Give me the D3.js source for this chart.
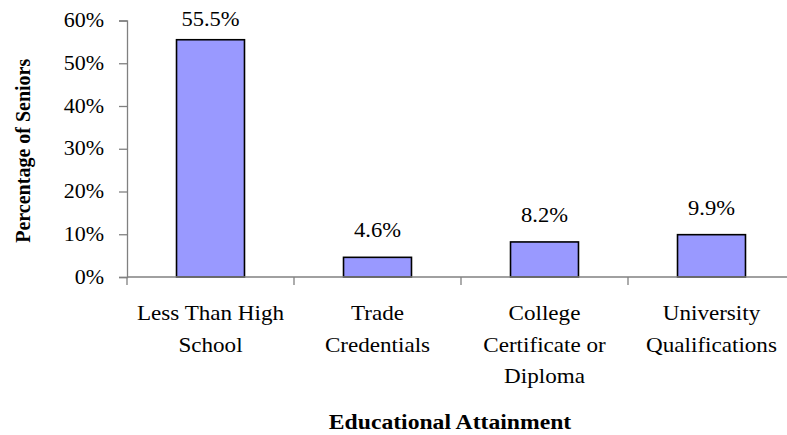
<!DOCTYPE html>
<html>
<head>
<meta charset="utf-8">
<script src="https://cdn.jsdelivr.net/npm/d3@7"></script>
<style>
  html, body { margin: 0; padding: 0; background: #fff; }
  svg { display: block; font-family: "Liberation Serif", "Times New Roman", serif; }
</style>
</head>
<body>
<svg id="chart" width="787" height="435"></svg>
<script>
// Educational attainment of seniors (share of seniors, %)
const categories = [
  ["Less Than High", "School"],
  ["Trade", "Credentials"],
  ["College", "Certificate or", "Diploma"],
  ["University", "Qualifications"]
];
const values = [55.5, 4.6, 8.2, 9.9];
const yTicks = [0, 10, 20, 30, 40, 50, 60];
const yTitle = "Percentage of Seniors";
const xTitle = "Educational Attainment";

const svg = d3.select("#chart");
const plot = { left: 127, right: 795, top: 20.5, bottom: 277 };
const sx = 1.1;            // horizontal text stretch
const axisColor = "#808080";

const keys = categories.map((c, i) => i);
const x = d3.scaleBand()
  .domain(keys)
  .range([plot.left, plot.right])
  .paddingInner(0.593)
  .paddingOuter(0.2965);

const y = d3.scaleLinear().domain([0, 60]).range([plot.bottom, plot.top]);

// Places a horizontally stretched text label at (px, py)
function label(g, px, py, str, size, anchor, weight) {
  return g.append("text")
    .attr("transform", `translate(${px},${py}) scale(${sx},1)`)
    .attr("text-anchor", anchor)
    .attr("font-size", size)
    .attr("font-weight", weight || "normal")
    .attr("fill", "#000")
    .text(str);
}

// Y axis (line + ticks)
const yAxis = d3.axisLeft(y)
  .tickValues(yTicks)
  .tickSize(8)
  .tickFormat("");
const gy = svg.append("g")
  .attr("transform", `translate(${plot.left},0)`)
  .call(yAxis);
gy.select(".domain").attr("stroke", axisColor).attr("stroke-width", 1.3);
gy.selectAll(".tick line").attr("stroke", axisColor).attr("stroke-width", 1.3);

// Y tick labels
const gyl = svg.append("g");
yTicks.forEach(t => label(gyl, 104, y(t) + 6.5, t + "%", 20, "end"));

// Bars
svg.append("g").selectAll("rect")
  .data(values)
  .join("rect")
  .attr("x", (d, i) => x(i))
  .attr("y", d => y(d))
  .attr("width", x.bandwidth())
  .attr("height", d => y(0) - y(d))
  .attr("fill", "#9999ff")
  .attr("stroke", "#000")
  .attr("stroke-width", 1.6);

// X axis baseline with category boundary ticks
const gx = svg.append("g");
gx.append("line")
  .attr("x1", plot.left).attr("x2", plot.right)
  .attr("y1", y(0)).attr("y2", y(0))
  .attr("stroke", axisColor).attr("stroke-width", 1.3);
const bounds = d3.range(keys.length + 1).map(i => plot.left + (plot.right - plot.left) * i / keys.length);
gx.selectAll("line.tk")
  .data(bounds)
  .join("line")
  .attr("class", "tk")
  .attr("x1", d => d).attr("x2", d => d)
  .attr("y1", y(0)).attr("y2", y(0) + 8)
  .attr("stroke", axisColor).attr("stroke-width", 1.3);

// Category labels (multi-line)
const lineGap = 31.5;
const gc = svg.append("g");
categories.forEach((lines, i) => {
  const cx = x(i) + x.bandwidth() / 2;
  lines.forEach((ln, j) => label(gc, cx, y(0) + 43 + j * lineGap, ln, 21, "middle"));
});

// Value labels above bars
const gv = svg.append("g");
values.forEach((v, i) => {
  label(gv, x(i) + x.bandwidth() / 2, Math.max(y(v) - 20, 26), v.toFixed(1) + "%", 20.5, "middle");
});

// Axis titles
svg.append("text")
  .attr("transform", `translate(30,${(plot.top + plot.bottom) / 2 + 2}) rotate(-90)`)
  .attr("text-anchor", "middle")
  .attr("font-weight", "bold")
  .attr("font-size", 20)
  .attr("fill", "#000")
  .text(yTitle);

label(svg, 450, 429, xTitle, 21.5, "middle", "bold");
</script>
</body>
</html>
